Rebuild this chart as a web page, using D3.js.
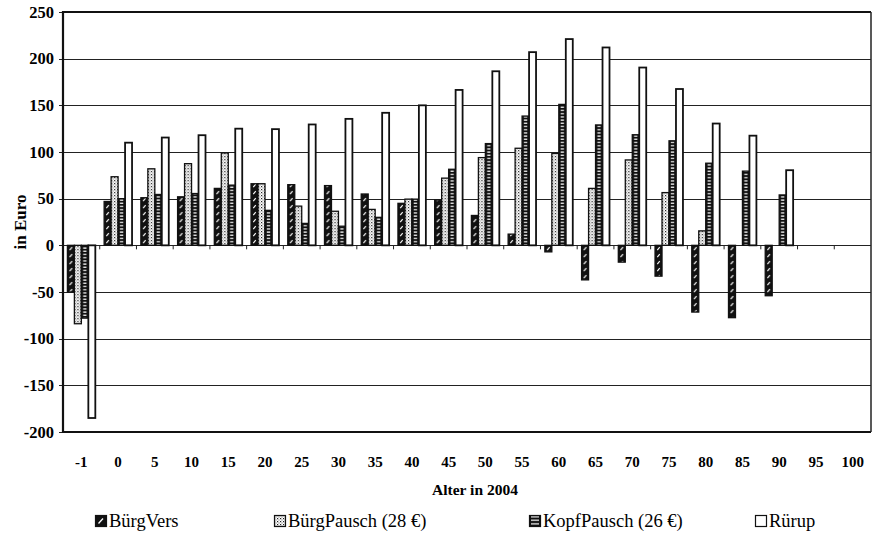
<!DOCTYPE html>
<html>
<head>
<meta charset="utf-8">
<script src="https://cdn.jsdelivr.net/npm/d3@7"></script>
<style>
  body { margin: 0; background: #fff; }
  svg { display: block; }
  text { font-family: "Liberation Serif", "Times New Roman", serif; fill: #000; }
</style>
</head>
<body>
<svg id="chart" width="873" height="536"></svg>
<script>
// ---- data ----
const categories = ["-1","0","5","10","15","20","25","30","35","40","45","50","55","60","65","70","75","80","85","90","95","100"];
const seriesNames = ["BürgVers", "BürgPausch (28 €)", "KopfPausch (26 €)", "Rürup"];
const buergVers   = [-50, 47, 51, 52, 61, 66, 65, 64, 55, 45, 48.5, 32, 12, -7, -37, -18, -33, -71.5, -77.5, -54, null, null];
const buergPausch = [-84, 73.5, 82, 87.5, 99, 66, 42, 36.5, 38.5, 49.5, 72, 94, 104, 98.5, 61, 91.5, 56.5, 15.5, null, null, null, null];
const kopfPausch  = [-78, 50, 54.5, 55.5, 64.5, 37.5, 23.5, 20.5, 30, 49.5, 81.5, 109, 138.5, 151, 129, 118.5, 112, 88, 79.5, 54, null, null];
const ruerup      = [-185, 110, 115.5, 118, 125, 124.5, 129.5, 135.5, 142, 150, 166.5, 186.5, 207, 221, 212, 190.5, 167.5, 130.5, 117.5, 80.5, null, null];
const yTicks = [-200, -150, -100, -50, 0, 50, 100, 150, 200, 250];
const xTitle = "Alter in 2004";
const yTitle = "in Euro";

const seriesValues = [buergVers, buergPausch, kopfPausch, ruerup];
const seriesKeys = ["bv", "bp", "kp", "ru"];

// ---- layout ----
const svg = d3.select("#chart");
const plot = { left: 63, right: 871, top: 12, bottom: 432 };

const x0 = d3.scaleBand().domain(categories).range([plot.left, plot.right])
  .paddingInner(0.24).paddingOuter(0.12);
const x1 = d3.scaleBand().domain(seriesKeys).range([0, x0.bandwidth()]);
const y = d3.scaleLinear().domain([-200, 250]).range([plot.bottom, plot.top]);
const bw = x1.bandwidth();

// ---- patterns ----
const defs = svg.append("defs");
const pBV = defs.append("pattern").attr("id", "pat-bv").attr("patternUnits", "userSpaceOnUse")
  .attr("width", bw).attr("height", 7);
pBV.append("rect").attr("width", bw).attr("height", 7).attr("fill", "#111");
pBV.append("line").attr("x1", bw/2 - 1.2).attr("y1", 5.2).attr("x2", bw/2 + 1.2).attr("y2", 2.2)
  .attr("stroke", "#fff").attr("stroke-width", 1.1);
const pBP = defs.append("pattern").attr("id", "pat-bp").attr("patternUnits", "userSpaceOnUse")
  .attr("width", 3).attr("height", 3);
pBP.append("rect").attr("width", 3).attr("height", 3).attr("fill", "#fff");
pBP.append("rect").attr("x", 0).attr("y", 0).attr("width", 1.2).attr("height", 1.2).attr("fill", "#222");
pBP.append("rect").attr("x", 1.5).attr("y", 1.5).attr("width", 1).attr("height", 1).attr("fill", "#555");
const pKP = defs.append("pattern").attr("id", "pat-kp").attr("patternUnits", "userSpaceOnUse")
  .attr("width", bw).attr("height", 3.2);
pKP.append("rect").attr("width", bw).attr("height", 3.2).attr("fill", "#111");
pKP.append("rect").attr("x", 1.8).attr("y", 1.1).attr("width", bw - 3.6).attr("height", 1.2).attr("fill", "#fff");
// legend version of KopfPausch: full-width horizontal lines
const pKPL = defs.append("pattern").attr("id", "pat-kp-leg").attr("patternUnits", "userSpaceOnUse")
  .attr("width", 12).attr("height", 3.5);
pKPL.append("rect").attr("width", 12).attr("height", 3.5).attr("fill", "#111");
pKPL.append("rect").attr("x", 2).attr("y", 1.2).attr("width", 8).attr("height", 1.2).attr("fill", "#fff");

const fills = { bv: "url(#pat-bv)", bp: "url(#pat-bp)", kp: "url(#pat-kp)", ru: "#fff" };

// ---- gridlines ----
svg.append("g").selectAll("line").data(yTicks).join("line")
  .attr("x1", plot.left).attr("x2", plot.right)
  .attr("y1", d => Math.round(y(d)) + 0.5).attr("y2", d => Math.round(y(d)) + 0.5)
  .attr("stroke", "#222").attr("stroke-width", 1.1);

// ---- bars ----
const groups = svg.append("g").selectAll("g").data(categories).join("g")
  .attr("transform", d => `translate(${x0(d)},0)`);

groups.selectAll("g").data((c, i) => seriesKeys.map((k, s) => ({ key: k, value: seriesValues[s][i] })))
  .join("g")
  .filter(d => d.value !== null && d.value !== 0)
  .attr("transform", d => `translate(${x1(d.key)},0)`)
  .append("rect")
  .attr("x", 0)
  .attr("y", d => Math.min(y(d.value), y(0)))
  .attr("width", bw)
  .attr("height", d => Math.abs(y(d.value) - y(0)))
  .attr("fill", d => fills[d.key])
  .attr("stroke", "#111")
  .attr("stroke-width", d => d.key === "ru" ? 1.8 : 1.3);

// ---- zero axis ticks at category boundaries ----
const step = x0.step();
const boundaries = categories.slice(1).map(c => x0(c) - x0.paddingInner() * step / 2);
svg.append("g").selectAll("line").data(boundaries).join("line")
  .attr("x1", d => d).attr("x2", d => d)
  .attr("y1", y(0)).attr("y2", y(0) + 4)
  .attr("stroke", "#222").attr("stroke-width", 1);

svg.append("g").selectAll("line").data(yTicks).join("line")
  .attr("x1", plot.left - 4).attr("x2", plot.left)
  .attr("y1", d => Math.round(y(d)) + 0.5).attr("y2", d => Math.round(y(d)) + 0.5)
  .attr("stroke", "#222").attr("stroke-width", 1);

// ---- plot frame ----
svg.append("line").attr("x1", plot.left).attr("x2", plot.left).attr("y1", plot.top - 1).attr("y2", plot.bottom + 1)
  .attr("stroke", "#111").attr("stroke-width", 2.2);
svg.append("line").attr("x1", plot.left).attr("x2", plot.right).attr("y1", plot.top).attr("y2", plot.top)
  .attr("stroke", "#111").attr("stroke-width", 2);
svg.append("line").attr("x1", plot.left).attr("x2", plot.right).attr("y1", plot.bottom).attr("y2", plot.bottom)
  .attr("stroke", "#111").attr("stroke-width", 2);
svg.append("line").attr("x1", plot.right).attr("x2", plot.right).attr("y1", plot.top).attr("y2", plot.bottom)
  .attr("stroke", "#222").attr("stroke-width", 1.5);

// ---- tick labels ----
svg.append("g").selectAll("text").data(yTicks).join("text")
  .attr("x", 54).attr("y", d => y(d) + 5.5)
  .attr("text-anchor", "end")
  .attr("font-size", 16.5).attr("font-weight", "bold")
  .text(d => d);

svg.append("g").selectAll("text").data(categories).join("text")
  .attr("x", d => x0(d) + x0.bandwidth() / 2)
  .attr("y", 467)
  .attr("text-anchor", "middle")
  .attr("font-size", 15).attr("font-weight", "bold")
  .text(d => d);

// ---- axis titles ----
svg.append("text").attr("x", (plot.left + plot.right) / 2 + 8).attr("y", 495)
  .attr("text-anchor", "middle").attr("font-size", 15.5).attr("font-weight", "bold")
  .text(xTitle);
svg.append("text").attr("transform", `translate(26,${(plot.top + plot.bottom) / 2}) rotate(-90)`)
  .attr("text-anchor", "middle").attr("font-size", 17).attr("font-weight", "bold")
  .text(yTitle);

// ---- legend ----
const legendX = [95, 274, 529, 755];
const legend = svg.append("g").selectAll("g").data(seriesKeys).join("g")
  .attr("transform", (d, i) => `translate(${legendX[i]},515)`);
legend.append("rect").attr("x", 0.5).attr("y", 0.5).attr("width", 11).attr("height", 11)
  .attr("fill", d => d === "bv" ? "#111" : d === "kp" ? "url(#pat-kp-leg)" : fills[d])
  .attr("stroke", "#111").attr("stroke-width", 1.2);
legend.filter(d => d === "bv").append("line")
  .attr("x1", 3.5).attr("y1", 8.5).attr("x2", 8).attr("y2", 3.5)
  .attr("stroke", "#fff").attr("stroke-width", 1.3);
legend.append("text").attr("x", 14).attr("y", 11.5)
  .attr("font-size", 18.5)
  .text((d, i) => seriesNames[i]);
</script>
</body>
</html>
